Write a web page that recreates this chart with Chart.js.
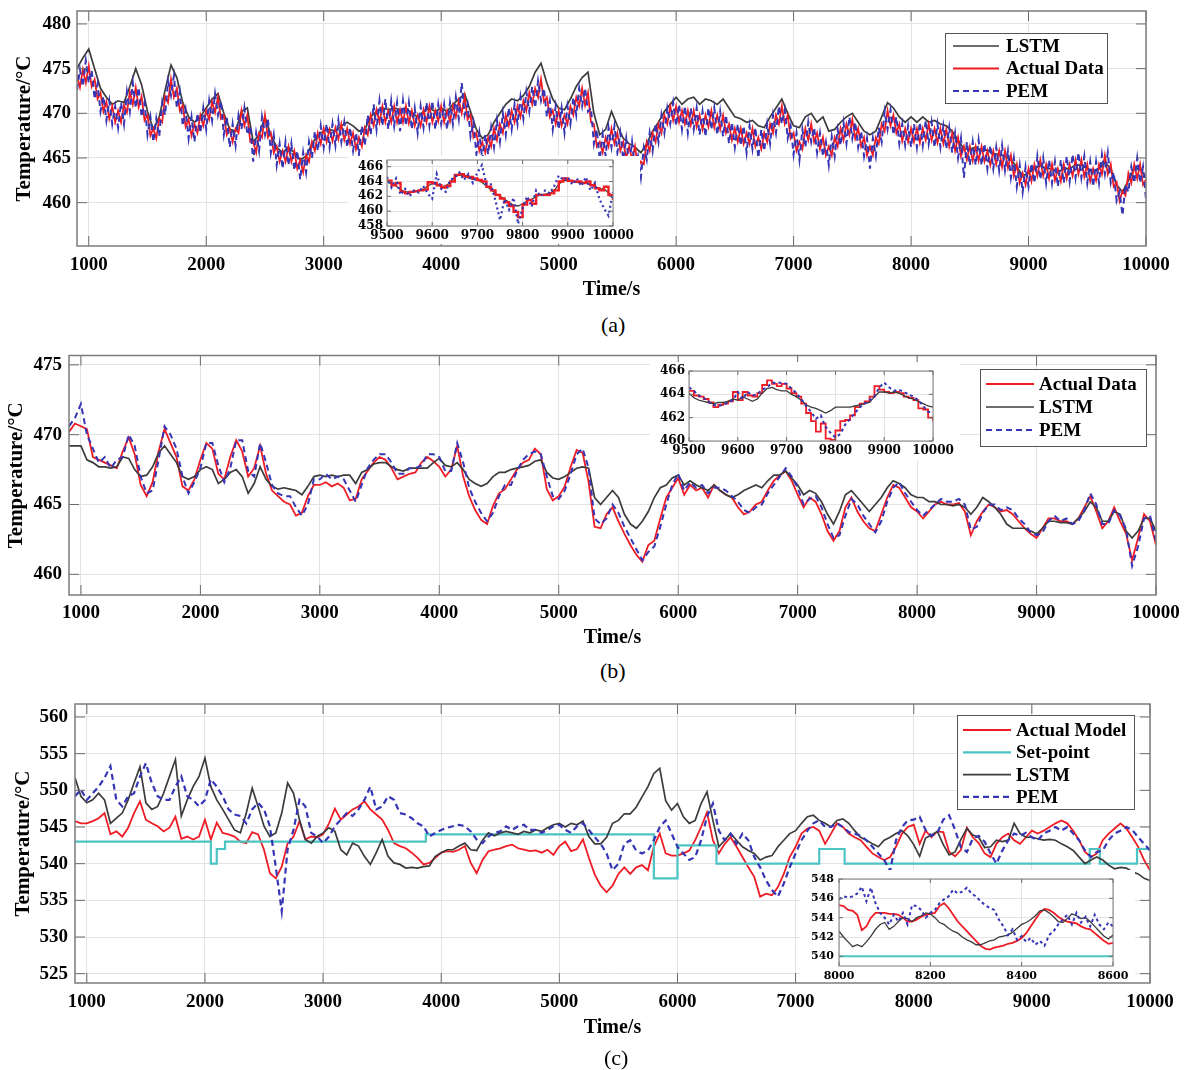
<!DOCTYPE html>
<html lang="en">
<head>
  <meta charset="UTF-8">
  <title>Temperature: Actual Data, LSTM, PEM</title>
  <script src="https://cdn.jsdelivr.net/npm/chart.js"></script>
  <style>
    body { margin: 0; background: #fff; width: 1184px; height: 1070px; position: relative; overflow: hidden; }
    canvas { position: absolute; }
    .inset { background: #fff; }
    .cap { position: absolute; font: 22px "Liberation Serif", serif; line-height: 28px; color: #000; }
  </style>
</head>
<body>
  <canvas id="chartA" width="1184" height="305" style="left:0;top:0"></canvas>
  <canvas id="chartB" width="1184" height="312" style="left:0;top:340px"></canvas>
  <canvas id="chartC" width="1184" height="345" style="left:0;top:700px"></canvas>
  <canvas id="insetA" class="inset" width="292" height="88" style="left:348px;top:156px"></canvas>
  <canvas id="insetB" class="inset" width="310" height="98" style="left:650px;top:362px"></canvas>
  <canvas id="insetC" class="inset" width="335" height="112" style="left:800px;top:870px"></canvas>
  <div class="cap" style="left:601px;top:311px">(a)</div>
  <div class="cap" style="left:600px;top:657px">(b)</div>
  <div class="cap" style="left:604px;top:1044px">(c)</div>

  <script>
    // time axis: 900 s .. 10000 s, one reading every 50 s (every 25 s for the noisy traces of panel a)
    const times = [];
    for (let t = 900; t <= 10000; t += 50) times.push(t);
    const timesFine = [];
    for (let t = 900; t <= 10000; t += 25) timesFine.push(t);

    // zoomed insets: one reading every 10 s
    const zoomAB = [];
    for (let t = 9500; t <= 10000; t += 10) zoomAB.push(t);
    const zoomC = [];
    for (let t = 8000; t <= 8600; t += 10) zoomC.push(t);

    const xTicks = [1000, 2000, 3000, 4000, 5000, 6000, 7000, 8000, 9000, 10000];
    const yTicksA = [460, 465, 470, 475, 480];
    const yTicksB = [460, 465, 470, 475];
    const yTicksC = [525, 530, 535, 540, 545, 550, 555, 560];
    const xTicksZoomAB = [9500, 9600, 9700, 9800, 9900, 10000];
    const yTicksZoomA = [458, 460, 462, 464, 466];
    const yTicksZoomB = [460, 462, 464, 466];
    const xTicksZoomC = [8000, 8200, 8400, 8600];
    const yTicksZoomC = [540, 542, 544, 546, 548];

    // ---- panel (a) ----
    const lstmA = [
      475.0, 476.2,
      477.2, 475.0, 472.8, 471.8, 471.0, 471.4, 471.2, 473.0, 475.0, 473.2, 470.2, 468.2, 469.6, 472.6, 475.4, 474.0, 471.2, 469.6, 469.0, 469.6,
      470.6, 471.6, 472.2, 470.0, 468.2, 468.0, 470.2, 470.6, 466.8, 467.6, 469.6, 467.6, 466.2, 465.6, 466.2, 465.6, 464.8, 465.2, 466.6, 467.6,
      468.0, 468.2, 468.0, 468.6, 469.0, 468.6, 468.0, 468.2, 469.6, 470.2, 470.6, 470.4, 470.6, 470.4, 470.6, 470.0, 469.6, 470.2, 470.6, 470.2,
      470.6, 470.2, 471.0, 471.6, 472.2, 470.2, 468.2, 467.2, 467.6, 469.0, 470.0, 471.0, 471.6, 471.4, 472.0, 473.0, 474.6, 475.6, 473.4, 471.6,
      470.6, 470.4, 471.6, 473.0, 474.0, 474.6, 470.0, 467.6, 468.2, 470.2, 468.6, 467.2, 466.6, 466.2, 465.6, 466.6, 468.0, 469.0, 470.2, 471.0,
      471.8, 471.0, 471.6, 471.8, 471.0, 471.6, 471.4, 471.0, 471.6, 470.6, 469.6, 469.4, 469.0, 469.2, 468.6, 468.4, 469.6, 470.6, 471.6, 470.0,
      468.6, 468.4, 469.6, 470.0, 469.0, 469.6, 468.0, 468.2, 469.0, 469.6, 470.0, 469.0, 468.0, 467.6, 468.0, 469.6, 471.2, 470.6, 469.6, 469.0,
      469.6, 469.0, 469.6, 469.0, 469.2, 468.8, 468.6, 468.0, 467.0, 466.0, 466.0, 466.2, 465.8, 465.9, 465.5, 465.4, 465.2, 464.8, 464.0, 463.0,
      463.3, 463.8, 464.2, 463.8, 463.8, 463.4, 463.8, 463.8, 464.2, 464.2, 463.8, 463.4, 463.8, 464.5, 463.8, 462.0, 461.2, 462.5, 463.8, 463.8,
      462.8
    ];
    // 25 s readings
    const actualA = [
      474.2, 472.9, 474.9, 473.4,
      475.3, 473.0, 473.8, 471.6, 472.3, 470.2, 471.3, 469.4, 470.8, 469.0, 470.3, 469.0, 470.9, 470.1, 472.4, 471.0, 472.9, 470.7, 471.9, 469.2,
      469.8, 467.5, 468.3, 467.2, 469.4, 469.0, 471.9, 471.2, 473.8, 471.8, 472.8, 470.3, 470.9, 468.5, 469.3, 467.5, 468.8, 467.8, 469.8, 468.6,
      470.3, 469.3, 471.3, 470.1, 471.8, 469.4, 469.8, 467.6, 468.3, 466.8, 468.3, 467.8, 470.3, 468.6, 469.8, 466.8, 466.8, 465.6, 467.8, 467.3,
      469.8, 467.3, 467.8, 465.6, 466.3, 464.6, 465.8, 464.6, 466.3, 464.6, 465.8, 463.8, 464.8, 463.4, 465.3, 464.6, 466.8, 465.8, 467.8, 466.6,
      468.3, 466.8, 468.2, 466.9, 468.4, 467.1, 468.8, 467.0, 468.3, 466.6, 467.8, 466.0, 467.3, 466.3, 468.4, 467.6, 469.8, 468.6, 470.4, 469.0,
      470.8, 469.0, 470.3, 469.0, 470.8, 469.0, 470.4, 469.0, 470.8, 468.9, 470.3, 468.6, 469.8, 468.6, 470.4, 469.0, 470.8, 469.0, 470.3, 469.1,
      470.8, 469.0, 470.3, 469.1, 470.9, 469.6, 471.4, 470.0, 471.9, 469.3, 469.8, 467.3, 467.8, 465.8, 466.8, 465.6, 467.3, 466.3, 468.3, 467.0,
      468.8, 467.8, 469.8, 468.6, 470.3, 469.0, 470.8, 469.6, 471.4, 470.3, 472.3, 471.0, 472.8, 471.8, 473.8, 471.3, 471.8, 469.6, 470.3, 468.8,
      470.3, 468.6, 469.8, 468.8, 470.8, 469.8, 471.8, 470.8, 472.8, 470.9, 472.3, 469.0, 468.8, 466.3, 466.8, 465.6, 467.3, 466.3, 468.3, 466.6,
      467.8, 465.8, 466.8, 465.0, 466.3, 464.8, 466.3, 463.9, 464.6, 464.3, 466.8, 465.8, 467.8, 466.8, 468.8, 467.8, 469.8, 468.8, 470.8, 469.2,
      470.8, 469.0, 470.3, 468.8, 470.3, 468.7, 470.3, 468.5, 469.8, 468.2, 469.8, 468.5, 470.3, 468.4, 469.8, 468.2, 469.8, 467.8, 468.8, 467.0,
      468.3, 466.8, 468.3, 466.6, 467.8, 466.6, 468.3, 466.3, 467.3, 466.0, 467.8, 466.8, 468.8, 467.8, 469.8, 468.8, 470.8, 468.8, 469.8, 467.2,
      467.8, 465.8, 466.8, 466.0, 468.3, 467.0, 468.8, 466.8, 467.8, 466.0, 467.3, 465.3, 466.3, 465.3, 467.3, 466.3, 468.3, 467.0, 468.8, 467.6,
      469.3, 467.2, 468.3, 466.3, 467.3, 465.3, 466.3, 465.3, 467.3, 466.6, 468.8, 468.0, 470.3, 468.6, 469.8, 467.8, 468.8, 466.9, 468.3, 466.8,
      468.3, 466.8, 468.3, 466.7, 468.3, 467.0, 468.8, 467.0, 468.3, 466.7, 468.3, 466.6, 468.2, 466.3, 467.8, 465.8, 467.3, 465.2, 466.3, 464.8,
      466.3, 464.7, 466.3, 464.7, 466.3, 464.6, 465.8, 464.2, 465.8, 464.3, 465.8, 464.0, 465.8, 463.9, 465.3, 463.0, 464.3, 462.2, 463.3, 462.0,
      463.8, 462.4, 464.3, 463.0, 464.8, 463.0, 464.3, 462.7, 464.3, 462.5, 463.8, 462.4, 464.3, 462.7, 464.3, 463.0, 464.8, 463.2, 464.8, 462.9,
      464.3, 462.4, 463.8, 462.5, 464.3, 463.2, 465.3, 463.2, 464.3, 461.8, 462.3, 460.2, 461.3, 460.8, 463.3, 462.2, 464.3, 462.7, 464.3, 462.0,
      462.6
    ];
    // 25 s readings
    const pemA = [
      472.6, 474.9, 473.0, 475.9,
      473.4, 474.8, 471.6, 473.3, 470.2, 471.9, 469.2, 471.4, 468.8, 470.8, 468.4, 471.2, 468.8, 472.4, 470.2, 473.4, 470.6, 472.9, 469.6, 471.2,
      467.6, 469.6, 466.8, 469.4, 467.4, 471.2, 469.8, 473.6, 472.0, 474.2, 470.6, 472.4, 468.6, 470.4, 467.2, 469.6, 466.8, 470.0, 467.8, 470.6,
      468.2, 471.4, 469.2, 472.2, 469.8, 471.4, 467.6, 469.6, 466.2, 468.8, 466.4, 469.8, 468.2, 470.6, 467.6, 468.6, 464.6, 467.8, 465.8, 469.6,
      467.6, 469.4, 465.6, 467.6, 464.2, 466.6, 463.8, 466.8, 464.2, 466.6, 463.6, 465.8, 462.6, 465.6, 463.4, 466.8, 465.0, 468.0, 465.8, 468.6,
      466.2, 468.8, 466.2, 468.8, 466.4, 469.2, 466.8, 469.0, 466.2, 468.4, 465.8, 467.8, 465.4, 468.6, 466.4, 469.8, 467.6, 471.0, 468.2, 471.4,
      468.6, 471.6, 468.2, 471.4, 468.6, 471.2, 468.0, 471.4, 468.6, 471.2, 468.2, 470.6, 467.8, 470.8, 468.4, 471.2, 468.6, 471.4, 468.2, 471.0,
      468.8, 471.0, 468.2, 471.2, 468.8, 471.8, 469.4, 473.4, 469.8, 471.0, 467.4, 469.0, 465.4, 467.8, 464.8, 467.6, 465.4, 468.4, 466.2, 469.2,
      466.8, 470.0, 467.6, 470.6, 468.2, 471.0, 468.8, 471.8, 469.4, 472.4, 470.2, 473.0, 470.6, 473.6, 471.4, 472.8, 469.6, 471.4, 468.2, 470.8,
      468.2, 470.6, 467.8, 470.8, 468.8, 471.8, 469.8, 472.8, 470.8, 472.8, 470.2, 470.6, 466.6, 468.2, 464.8, 467.6, 465.2, 468.4, 466.2, 468.6,
      465.6, 467.8, 464.8, 467.2, 464.2, 466.8, 463.8, 465.2, 462.8, 466.2, 464.8, 467.8, 465.8, 468.8, 466.8, 469.8, 467.8, 470.6, 468.8, 471.2,
      468.6, 471.0, 468.2, 470.8, 467.8, 470.6, 468.2, 470.6, 467.6, 470.2, 467.4, 470.6, 468.2, 470.6, 467.6, 470.2, 467.4, 469.8, 466.6, 469.0,
      466.2, 468.8, 466.4, 468.6, 465.6, 468.6, 466.0, 468.4, 465.0, 468.2, 465.8, 468.8, 466.6, 469.8, 467.8, 470.8, 468.8, 470.4, 467.2, 468.6,
      465.4, 467.8, 464.8, 468.2, 466.2, 469.0, 466.8, 468.4, 465.6, 467.8, 465.2, 466.8, 464.2, 467.4, 465.2, 468.2, 466.4, 469.0, 466.6, 469.6,
      467.2, 469.0, 466.2, 468.0, 465.2, 467.2, 463.8, 467.2, 465.2, 468.4, 466.8, 470.2, 468.2, 470.4, 467.6, 469.6, 466.6, 468.8, 466.4, 468.6,
      466.2, 468.8, 466.2, 469.0, 466.4, 469.2, 466.6, 469.0, 466.2, 468.8, 466.2, 468.6, 466.0, 468.4, 465.6, 467.8, 465.0, 467.2, 462.8, 466.8,
      464.2, 466.8, 464.2, 467.0, 464.2, 466.6, 463.8, 466.4, 463.8, 466.2, 463.6, 466.4, 463.6, 465.8, 462.8, 465.0, 461.8, 464.2, 461.2, 464.0,
      461.8, 464.4, 462.2, 465.2, 462.6, 465.0, 462.2, 464.8, 462.2, 464.6, 461.8, 464.8, 462.2, 465.2, 462.4, 465.4, 462.8, 465.6, 462.8, 465.2,
      462.2, 464.6, 461.8, 464.6, 462.2, 465.4, 463.2, 465.6, 462.2, 463.4, 460.2, 461.2, 458.6, 462.0, 461.2, 464.0, 462.2, 465.0, 462.2, 464.0,
      460.4
    ];

    // ---- panel (b) ----
    const actualB = [
      470.2, 470.8,
      470.6, 470.4, 468.4, 468.2, 468.0, 467.8, 467.6, 468.8, 469.8, 468.6, 466.4, 465.6, 466.6, 468.8, 470.4, 469.4, 468.4, 466.3, 466.0, 466.8,
      468.2, 469.4, 469.0, 467.2, 466.8, 468.4, 469.6, 468.8, 467.0, 467.6, 469.2, 467.2, 466.0, 465.6, 465.2, 465.0, 464.2, 464.4, 465.6, 466.4,
      466.4, 466.6, 466.3, 466.5, 466.2, 465.3, 465.4, 466.8, 467.4, 468.0, 468.4, 468.2, 467.6, 466.8, 467.0, 467.2, 467.3, 468.0, 468.4, 468.1,
      467.7, 467.0, 467.5, 469.2, 467.0, 465.6, 464.6, 463.9, 463.6, 464.9, 465.8, 466.1, 466.8, 467.5, 468.0, 468.2, 469.0, 468.6, 466.1, 465.3,
      465.6, 466.3, 467.7, 468.9, 468.7, 466.6, 463.4, 463.3, 464.3, 464.8, 463.8, 462.9, 462.1, 461.4, 460.9, 462.1, 462.4, 464.0, 465.5, 466.2,
      466.9, 465.7, 466.4, 466.0, 466.2, 465.5, 466.4, 466.0, 465.7, 465.5, 464.8, 464.3, 464.5, 465.0, 465.2, 466.0, 466.7, 467.1, 467.4, 466.7,
      465.7, 464.8, 465.5, 465.2, 464.3, 463.1, 462.4, 463.1, 464.8, 465.5, 464.5, 463.8, 463.3, 463.1, 464.3, 465.5, 466.4, 466.2, 465.5, 464.8,
      464.5, 464.0, 464.5, 465.0, 465.2, 465.0, 465.0, 465.1, 464.5, 462.8, 463.8, 464.5, 465.0, 464.8, 464.5, 464.6, 464.3, 463.8, 463.3, 462.9,
      462.6, 463.3, 464.0, 464.0, 463.8, 463.8, 463.6, 464.0, 464.8, 465.6, 464.5, 463.3, 463.8, 464.8, 463.8, 462.9, 461.0, 462.6, 464.3, 463.8,
      462.1
    ];
    const lstmB = [
      469.2, 469.2,
      469.2, 468.2, 468.0, 467.7, 467.7, 467.6, 467.7, 468.4, 468.3, 467.5, 467.0, 467.1, 467.7, 468.7, 469.2, 468.6, 468.0, 467.0, 466.8, 467.0,
      467.5, 467.7, 467.5, 466.5, 466.8, 467.3, 467.5, 467.0, 465.8, 466.5, 467.7, 466.8, 466.3, 466.1, 466.2, 466.1, 466.0, 465.7, 466.3, 467.0,
      467.1, 467.0, 467.1, 467.0, 467.1, 467.1, 466.5, 467.3, 467.5, 467.9, 468.0, 468.0, 467.7, 467.5, 467.4, 467.6, 467.6, 467.6, 467.6, 468.0,
      468.3, 467.8, 467.7, 468.0, 467.5, 466.8, 466.5, 466.3, 466.5, 467.0, 467.3, 467.3, 467.5, 467.6, 467.7, 467.8, 468.1, 468.2, 467.3, 466.9,
      466.8, 467.0, 467.3, 467.6, 467.7, 467.6, 465.5, 465.0, 465.5, 466.0, 465.5, 464.3, 463.6, 463.3, 463.8, 464.5, 465.5, 466.2, 466.4, 466.9,
      467.1, 466.4, 466.7, 466.4, 466.2, 466.0, 466.4, 466.0, 465.7, 465.5, 465.7, 466.0, 466.2, 466.4, 466.2, 466.7, 467.1, 467.1, 467.4, 466.9,
      466.4, 465.7, 466.0, 465.8, 465.2, 464.3, 463.6, 464.5, 465.7, 466.0, 465.5, 465.0, 464.5, 465.0, 465.5, 466.2, 466.7, 466.5, 466.2, 465.7,
      465.5, 465.5, 465.2, 465.2, 465.0, 465.0, 464.9, 465.0, 464.8, 464.3, 464.8, 465.5, 465.2, 464.8, 464.3, 463.6, 463.3, 463.3, 463.3, 463.1,
      462.9, 463.3, 463.8, 463.8, 463.7, 463.7, 463.6, 464.0, 464.5, 465.2, 464.8, 463.8, 463.8, 464.5, 464.3, 463.1, 462.6, 463.1, 464.0, 464.0,
      463.1
    ];
    const pemB = [
      470.6, 471.2,
      472.2, 470.0, 469.0, 468.0, 468.4, 467.6, 468.2, 468.4, 470.0, 469.2, 467.0, 465.8, 466.0, 468.2, 470.6, 470.0, 469.0, 467.0, 465.8, 466.6,
      467.6, 469.4, 469.4, 467.8, 466.6, 467.6, 469.6, 469.6, 467.4, 467.0, 469.4, 468.0, 466.4, 465.8, 465.6, 465.6, 464.8, 464.2, 465.0, 466.8,
      466.8, 467.2, 466.8, 467.0, 466.8, 466.0, 465.2, 466.4, 467.6, 468.2, 468.6, 468.6, 468.0, 467.2, 467.2, 467.6, 467.6, 467.8, 468.6, 468.6,
      468.4, 467.4, 467.4, 469.4, 468.0, 466.2, 465.2, 464.4, 463.8, 464.4, 465.6, 466.4, 466.4, 467.4, 468.2, 468.6, 468.8, 468.6, 467.0, 465.6,
      465.4, 466.0, 467.2, 468.6, 469.0, 467.6, 464.0, 463.6, 464.0, 465.0, 464.4, 463.4, 462.6, 461.8, 461.0, 461.6, 462.0, 463.4, 465.0, 466.4,
      467.2, 466.0, 466.6, 466.2, 466.4, 465.8, 466.2, 466.2, 466.0, 465.6, 465.2, 464.6, 464.4, 464.8, 465.0, 465.8, 466.4, 467.0, 467.6, 467.0,
      466.2, 465.0, 465.4, 465.6, 464.8, 463.6, 462.6, 462.8, 464.2, 465.4, 465.0, 464.2, 463.6, 463.0, 463.8, 465.2, 466.2, 466.6, 465.8, 465.2,
      464.6, 464.2, 464.6, 465.0, 465.4, 465.2, 465.2, 465.4, 465.0, 463.2, 463.4, 464.4, 465.0, 465.0, 464.6, 464.8, 464.6, 464.0, 463.6, 463.0,
      462.8, 463.0, 463.8, 464.2, 463.8, 464.0, 463.6, 463.8, 464.6, 465.8, 465.0, 463.6, 463.6, 464.6, 464.2, 463.2, 460.6, 462.0, 464.0, 464.2,
      462.4
    ];

    // ---- panel (c) ----
    const actualC = [
      545.8, 545.5,
      545.5, 545.8, 546.2, 546.9, 544.0, 544.4, 543.7, 544.9, 546.9, 548.5, 546.0, 545.5, 545.1, 544.4, 544.9, 546.4, 543.4, 543.7, 543.3, 543.7,
      546.0, 543.3, 545.6, 544.2, 544.0, 543.7, 543.0, 542.8, 544.3, 544.0, 541.9, 538.7, 538.0, 539.6, 542.8, 543.7, 545.8, 543.3, 543.7, 543.6,
      544.0, 545.5, 547.5, 546.0, 546.7, 547.4, 547.8, 548.5, 547.4, 546.7, 546.0, 544.6, 542.8, 542.4, 542.1, 541.5, 540.8, 539.9, 540.1, 540.8,
      541.5, 541.7, 541.6, 541.9, 542.4, 540.1, 538.7, 540.5, 541.7, 541.9, 542.1, 542.4, 542.6, 542.1, 541.9, 541.7, 541.8, 541.5, 541.9, 541.2,
      542.4, 543.0, 541.7, 542.0, 543.3, 540.8, 538.5, 537.0, 536.1, 537.0, 538.6, 539.5, 538.6, 539.5, 539.8, 539.1, 542.3, 544.1, 541.4, 541.1,
      541.1, 541.4, 541.8, 543.2, 545.0, 547.0, 543.2, 541.4, 542.7, 543.6, 542.3, 540.9, 539.5, 538.2, 535.5, 535.9, 535.7, 536.8, 538.6, 540.9,
      542.3, 544.1, 544.8, 545.0, 544.5, 542.7, 544.1, 545.5, 545.0, 544.1, 543.6, 543.2, 542.3, 541.4, 540.9, 540.5, 540.9, 542.3, 544.1, 545.0,
      545.3, 542.7, 544.5, 543.6, 544.4, 544.3, 541.6, 541.0, 541.9, 544.9, 543.6, 542.8, 541.4, 540.9, 542.7, 543.6, 544.1, 543.2, 542.7, 543.6,
      544.5, 544.1, 544.5, 545.0, 545.5, 545.9, 545.5, 544.5, 543.2, 541.6, 540.9, 541.4, 543.2, 544.1, 544.8, 545.5, 544.8, 543.6, 542.3, 540.5,
      539.1
    ];
    const lstmC = [
      551.7, 549.2,
      548.3, 548.7, 549.6, 548.7, 545.5, 546.2, 546.9, 548.7, 551.0, 553.2, 548.3, 547.4, 547.8, 549.6, 551.9, 554.2, 546.5, 548.7, 550.5, 551.9,
      554.4, 550.5, 548.7, 547.4, 546.0, 544.6, 544.2, 546.9, 550.3, 547.8, 545.1, 543.7, 544.2, 546.9, 551.0, 549.6, 546.0, 543.3, 542.8, 543.7,
      544.2, 544.9, 544.4, 541.9, 541.2, 542.8, 542.4, 541.0, 539.9, 541.5, 543.3, 541.0, 540.1, 539.9, 539.4, 539.5, 539.4, 539.6, 539.7, 541.0,
      541.5, 541.9, 541.9, 542.4, 542.8, 541.9, 541.8, 543.2, 544.2, 543.8, 544.2, 544.4, 544.2, 544.0, 544.4, 544.2, 544.6, 544.4, 544.9, 545.3,
      545.5, 545.0, 545.5, 545.3, 545.8, 543.7, 542.7, 542.7, 543.6, 545.5, 545.9, 546.8, 546.8, 547.7, 549.1, 550.5, 552.3, 553.0, 548.6, 547.3,
      548.2, 546.4, 545.5, 545.9, 548.2, 549.8, 545.9, 542.3, 543.2, 544.1, 543.2, 542.3, 541.8, 541.4, 540.5, 540.9, 541.1, 542.3, 543.2, 544.1,
      544.5, 545.5, 546.4, 546.6, 545.9, 545.5, 545.0, 545.9, 546.1, 545.5, 544.5, 543.6, 543.2, 542.7, 542.3, 543.2, 543.6, 544.1, 544.5, 543.8,
      542.6, 541.0, 543.5, 543.9, 544.4, 542.6, 541.2, 541.6, 543.3, 544.8, 543.9, 543.6, 542.2, 542.3, 543.2, 543.0, 543.2, 545.5, 544.1, 543.6,
      543.6, 543.4, 543.2, 543.3, 543.2, 542.7, 542.3, 541.8, 540.9, 540.0, 540.5, 540.9, 540.5, 539.8, 539.3, 539.5, 539.4, 538.9, 538.6, 538.0,
      537.7
    ];
    const pemC = [
      549.2, 550.1,
      548.7, 549.6, 550.5, 551.7, 553.3, 548.7, 547.8, 549.2, 549.6, 551.9, 553.7, 551.0, 549.2, 548.7, 548.7, 550.5, 551.9, 549.2, 548.7, 547.8,
      548.7, 551.5, 550.5, 549.2, 547.4, 546.7, 546.5, 545.5, 547.4, 548.3, 547.4, 545.1, 539.5, 533.5, 542.0, 544.6, 548.7, 547.8, 544.2, 543.7,
      542.8, 543.7, 545.1, 546.0, 546.9, 546.5, 547.4, 548.7, 550.5, 547.4, 547.8, 549.2, 548.7, 546.9, 546.7, 546.2, 545.5, 545.1, 543.7, 544.2,
      544.6, 544.9, 545.1, 545.3, 545.1, 544.4, 543.3, 542.8, 543.7, 544.2, 544.4, 545.1, 544.6, 545.1, 545.3, 544.6, 544.6, 544.2, 544.6, 545.1,
      545.3, 544.6, 544.2, 545.1, 545.5, 544.6, 543.6, 542.7, 541.4, 539.1, 540.0, 542.7, 543.2, 541.8, 541.4, 541.8, 543.2, 545.0, 545.9, 544.1,
      542.3, 541.4, 540.5, 540.9, 543.2, 546.4, 548.2, 544.5, 543.2, 544.1, 542.7, 544.1, 543.2, 540.9, 539.5, 537.7, 536.4, 535.5, 537.3, 539.5,
      541.4, 543.2, 544.5, 545.5, 545.9, 545.0, 545.0, 545.5, 545.0, 544.3, 544.1, 543.8, 543.2, 542.3, 541.4, 540.5, 539.0, 543.2, 545.0, 545.9,
      546.0, 546.4, 544.6, 543.8, 544.2, 546.0, 546.6, 544.6, 542.2, 541.6, 543.4, 543.8, 543.0, 541.4, 540.0, 541.8, 543.2, 544.1, 543.8, 544.2,
      543.6, 543.2, 544.1, 544.5, 545.0, 544.5, 545.0, 544.1, 543.2, 541.8, 540.9, 541.6, 541.8, 543.2, 544.1, 544.5, 545.0, 544.6, 543.6, 542.7,
      541.8
    ];
    // set-point changes (time, new value)
    const setX = [900, 2050, 2100, 2170, 3870, 5800, 6000, 6330, 7200, 7415, 9490, 9575, 9890, 10000];
    const setY = [543, 540, 542, 543, 544, 538, 542.5, 540, 542, 540, 542, 540, 542, 542];

    // ---- insets ----
    const actualZoomA = [
      464.1, 463.5, 463.8, 462.6, 462.4, 462.6, 462.7, 462.8, 462.9, 463.9,
      463.8, 463.5, 463.2, 463.4, 464.0, 464.9, 465.0, 464.7, 464.6, 464.4,
      464.2, 464.0, 463.3, 462.8, 462.2, 461.7, 461.2, 460.7, 459.9, 459.2,
      460.9, 461.5, 461.0, 462.2, 462.2, 462.2, 462.4, 462.8, 464.0, 464.4,
      464.1, 464.0, 464.0, 463.8, 464.0, 463.5, 463.1, 462.8, 463.3, 462.2,
      461.5
    ];
    const lstmZoomA = [
      464.0, 463.7, 463.4, 462.9, 462.6, 462.6, 462.7, 462.8, 462.9, 463.4,
      463.7, 463.6, 463.3, 463.4, 463.9, 464.6, 464.9, 464.7, 464.5, 464.3,
      464.2, 463.9, 463.4, 462.9, 462.4, 462.0, 461.6, 461.2, 460.8, 460.7,
      461.0, 461.4, 461.6, 462.0, 462.2, 462.3, 462.4, 462.8, 463.6, 464.2,
      464.1, 464.0, 463.9, 463.8, 463.9, 463.6, 463.3, 463.0, 463.0, 462.5,
      462.0
    ];
    const pemZoomA = [
      464.6, 463.2, 464.4, 462.2, 463.0, 462.0, 462.8, 462.5, 463.4, 462.4,
      461.7, 465.0, 463.0, 462.6, 464.2, 464.6, 465.2, 464.2, 465.0, 463.8,
      465.2, 466.2, 463.6, 463.6, 461.4, 458.8, 461.6, 460.2, 461.8, 458.3,
      460.4, 462.0, 460.6, 462.8, 462.0, 462.8, 462.4, 463.4, 464.8, 464.2,
      464.6, 463.6, 464.4, 463.4, 464.6, 462.8, 463.8, 461.6, 460.4, 459.4,
      462.6
    ];
    const actualZoomB = [
      464.3, 463.9, 463.8, 463.6, 463.3, 462.9, 463.1, 463.2, 463.4, 464.2,
      463.5, 464.2, 463.9, 463.8, 464.1, 464.8, 465.2, 464.9, 464.7, 464.9,
      464.5, 464.1, 463.8, 463.2, 462.4, 461.7, 460.8, 461.5, 460.2, 460.1,
      460.9, 461.7, 461.8, 462.2, 462.9, 463.2, 463.4, 463.8, 464.7, 464.4,
      464.2, 464.1, 464.2, 464.1, 463.8, 463.7, 463.5, 462.8, 462.7, 462.0,
      461.7
    ];
    const lstmZoomB = [
      464.1, 463.7, 463.5, 463.4, 463.3, 463.2, 463.3, 463.3, 463.4, 463.6,
      463.5, 463.8, 463.6, 463.4, 463.6, 464.1, 464.5, 464.6, 464.4, 464.3,
      464.3, 464.0, 463.8, 463.5, 463.1, 462.9, 462.8, 462.6, 462.4, 462.6,
      462.9, 462.9, 462.9, 462.9, 463.0, 463.1, 463.2, 463.3, 463.8, 464.2,
      464.2, 464.1, 464.2, 464.1, 463.9, 463.7, 463.6, 463.4, 463.2, 463.0,
      462.9
    ];
    const pemZoomB = [
      464.6, 464.3, 463.9, 463.7, 463.4, 463.1, 463.0, 463.1, 463.3, 463.5,
      464.2, 463.6, 464.2, 463.9, 464.0, 464.4, 464.6, 465.0, 465.0, 465.0,
      464.9, 464.5, 464.1, 463.6, 463.0, 462.5, 461.9, 462.2, 461.2, 460.7,
      460.3, 460.6, 461.4, 461.9, 462.4, 462.9, 463.2, 463.5, 463.8, 464.6,
      465.0, 464.6, 464.3, 464.4, 464.2, 464.0, 463.8, 463.5, 463.0, 462.5,
      462.4
    ];
    const actualZoomC = [
      545.3, 545.2, 544.8, 544.7, 544.3, 542.7, 543.1, 544.0, 544.5, 544.5,
      544.5, 544.4, 544.4, 544.3, 544.0, 543.6, 543.6, 543.8, 544.1, 544.3,
      544.4, 544.5, 545.2, 545.5, 545.0, 544.3, 543.6, 543.1, 542.6, 542.1,
      541.6, 541.1, 540.8, 540.7, 540.9, 541.0, 541.1, 541.3, 541.4, 541.6,
      541.9, 542.4, 543.1, 543.8, 544.5, 544.9, 544.8, 544.5, 544.1, 543.8,
      543.6, 543.5, 543.4, 543.1, 542.9, 542.8, 542.4, 542.0, 541.6, 541.3,
      541.4
    ];
    const lstmZoomC = [
      542.6, 542.0, 541.5, 541.0, 541.2, 541.0, 541.5, 542.1, 542.8, 543.3,
      543.5, 542.8, 543.1, 543.6, 544.0, 543.9, 543.6, 544.0, 544.2, 544.5,
      544.4, 544.0, 543.5, 543.3, 542.9, 542.6, 542.4, 542.0, 541.7, 541.5,
      541.2, 541.2, 541.4, 541.6, 541.7, 542.0, 542.1, 542.2, 542.5, 542.9,
      543.3, 543.5, 543.8, 544.2, 544.7, 544.8, 544.5, 544.1, 543.6, 543.5,
      543.9, 544.4, 544.2, 543.9, 544.0, 543.6, 543.1, 542.6, 542.1, 541.8,
      542.2
    ];
    const pemZoomC = [
      545.9, 546.2, 546.1, 546.2, 546.5, 547.2, 545.7, 547.1, 545.5, 544.5,
      544.0, 543.3, 544.3, 543.6, 544.5, 543.3, 545.3, 545.2, 544.8, 544.0,
      544.5, 544.8, 545.5, 545.9, 546.2, 546.9, 546.5, 546.7, 547.1, 546.5,
      546.2, 545.7, 545.3, 545.0, 544.8, 543.8, 543.1, 542.2, 542.8, 541.7,
      542.1, 541.5, 541.9, 541.2, 541.6, 541.1, 542.2, 542.6, 543.3, 543.8,
      544.3, 543.3, 544.5, 543.5, 544.1, 543.1, 544.3, 543.3, 542.8, 543.5,
      543.1
    ];
    const setZoomX = [8000, 8600];
    const setZoomY = [540, 540];

    // ---- styling ----
    const SERIF = '"Liberation Serif", "Times New Roman", serif';
    const INSET_FONT = '"DejaVu Serif", serif';
    const RED = '#ee1c25', DARK = '#3c3c3c', BLUE = '#3535b5', TEAL = '#4cc4c4';

    function series(label, xs, ys, color, width, dash, order, extra) {
      return Object.assign({
        label: label,
        data: xs.map((x, i) => ({ x: x, y: ys[i] })),
        borderColor: color,
        backgroundColor: color,
        borderWidth: width,
        borderDash: dash,
        order: order,
        fill: false
      }, extra || {});
    }

    // box round the plot area plus MATLAB-like inward tick marks
    const framePlugin = {
      id: 'frame',
      afterDraw(chart, args, o) {
        const { ctx, chartArea: a } = chart;
        const x = chart.scales.x, y = chart.scales.y;
        ctx.save();
        ctx.strokeStyle = '#6a6a6a';
        ctx.lineWidth = 1;
        ctx.beginPath();
        x.ticks.forEach(t => {
          const px = x.getPixelForValue(t.value);
          ctx.moveTo(px, a.bottom); ctx.lineTo(px, a.bottom - o.len);
          ctx.moveTo(px, a.top); ctx.lineTo(px, a.top + o.len);
        });
        y.ticks.forEach(t => {
          const py = y.getPixelForValue(t.value);
          ctx.moveTo(a.left, py); ctx.lineTo(a.left + o.len, py);
          ctx.moveTo(a.right, py); ctx.lineTo(a.right - o.len, py);
        });
        ctx.stroke();
        ctx.strokeStyle = '#7c7c7c';
        ctx.lineWidth = o.width;
        ctx.strokeRect(a.left, a.top, a.right - a.left, a.bottom - a.top);
        ctx.restore();
      }
    };

    // legend drawn as a boxed list inside the plot
    const legendPlugin = {
      id: 'boxLegend',
      afterDraw(chart, args, o) {
        if (!o.show) return;
        const ctx = chart.ctx;
        ctx.save();
        ctx.fillStyle = '#fff';
        ctx.fillRect(o.x, o.y, o.w, o.h);
        ctx.strokeStyle = '#555';
        ctx.lineWidth = 1;
        ctx.strokeRect(o.x + 0.5, o.y + 0.5, o.w, o.h);
        ctx.font = 'bold 19px ' + SERIF;
        ctx.textBaseline = 'middle';
        chart.data.datasets.forEach((ds, i) => {
          const cy = o.y + o.first + i * o.row;
          ctx.strokeStyle = ds.borderColor;
          ctx.lineWidth = ds.borderWidth;
          ctx.setLineDash(ds.borderDash || []);
          ctx.beginPath();
          ctx.moveTo(o.x + o.l0, cy);
          ctx.lineTo(o.x + o.l1, cy);
          ctx.stroke();
          ctx.setLineDash([]);
          ctx.fillStyle = '#000';
          ctx.fillText(ds.label, o.x + o.tx, cy + 1);
        });
        ctx.restore();
      }
    };

    function makeChart(id, c) {
      const cv = document.getElementById(id);
      const W = cv.width, H = cv.height, a = c.area;
      const tickFont = { family: c.font, size: c.tickSize, weight: 'bold' };
      return new Chart(cv, {
        type: 'line',
        data: { datasets: c.datasets },
        plugins: [framePlugin, legendPlugin],
        options: {
          responsive: false,
          animation: false,
          events: [],
          layout: { padding: { left: 0, top: a.top, right: W - a.right, bottom: 0 } },
          elements: { point: { radius: 0 }, line: { tension: 0 } },
          plugins: {
            legend: { display: false },
            tooltip: { enabled: false },
            frame: { len: c.tickLen, width: c.frameWidth },
            boxLegend: c.legend || { show: false }
          },
          scales: {
            x: {
              type: 'linear', min: c.xMin, max: c.xMax,
              afterBuildTicks: s => { s.ticks = c.xTicks.map(v => ({ value: v })); },
              afterFit: s => { s.height = H - a.bottom; s.paddingLeft = 0; s.paddingRight = 0; },
              grid: { color: '#e3e3e3', drawTicks: false },
              border: { display: false },
              ticks: { font: tickFont, color: '#000', padding: c.xPad, maxRotation: 0, autoSkip: false, callback: v => v },
              title: { display: !!c.xTitle, text: c.xTitle, color: '#000', font: { family: SERIF, size: 20, weight: 'bold' }, padding: { top: 0, bottom: c.xTitlePad || 0 } }
            },
            y: {
              min: c.yMin, max: c.yMax,
              afterBuildTicks: s => { s.ticks = c.yTicks.map(v => ({ value: v })); },
              afterFit: s => { s.width = a.left; s.paddingTop = 0; s.paddingBottom = 0; },
              grid: { color: '#e3e3e3', drawTicks: false },
              border: { display: false },
              ticks: { font: tickFont, color: '#000', padding: c.yPad, autoSkip: false, callback: v => v },
              title: { display: !!c.yTitle, text: c.yTitle, color: '#000', font: { family: SERIF, size: 21, weight: 'bold' }, padding: { top: c.yTitlePad || 0, bottom: 0 } }
            }
          }
        }
      });
    }

    const mainStyle = { font: SERIF, tickSize: 19, tickLen: 10, frameWidth: 1.5, xMin: 900, xMax: 10000, xTicks: xTicks, xTitle: 'Time/s', yTitle: 'Temperature/°C' };
    const zoomStyle = { font: INSET_FONT, tickLen: 4, frameWidth: 1 };

    makeChart('chartA', Object.assign({}, mainStyle, {
      area: { left: 77, right: 1146, top: 11, bottom: 246 },
      yMin: 455.15, yMax: 481.45, yTicks: yTicksA,
      xPad: 8, xTitlePad: 3, yPad: 6, yTitlePad: 12,
      legend: { show: true, x: 945, y: 33, w: 162, h: 70, first: 13, row: 22.5, l0: 8, l1: 54, tx: 61 },
      datasets: [
        series('LSTM', times, lstmA, DARK, 1.7, [], 3),
        series('Actual Data', timesFine, actualA, RED, 1.8, [], 2),
        series('PEM', timesFine, pemA, BLUE, 2, [6, 4], 1)
      ]
    }));

    makeChart('chartB', Object.assign({}, mainStyle, {
      area: { left: 69, right: 1156, top: 15.5, bottom: 255 },
      yMin: 458.52, yMax: 475.67, yTicks: yTicksB,
      xPad: 7, xTitlePad: 2, yPad: 7, yTitlePad: 4,
      legend: { show: true, x: 980, y: 29, w: 166, h: 77, first: 15, row: 23, l0: 6, l1: 54, tx: 59 },
      datasets: [
        series('Actual Data', times, actualB, RED, 1.8, [], 3),
        series('LSTM', times, lstmB, DARK, 1.7, [], 2),
        series('PEM', times, pemB, BLUE, 2, [6, 4], 1)
      ]
    }));

    makeChart('chartC', Object.assign({}, mainStyle, {
      area: { left: 75, right: 1150, top: 4, bottom: 283 },
      yMin: 523.73, yMax: 561.77, yTicks: yTicksC,
      xPad: 8, xTitlePad: 5, yPad: 7, yTitlePad: 11,
      legend: { show: true, x: 957, y: 15, w: 177, h: 94, first: 15, row: 22.3, l0: 6, l1: 54, tx: 59 },
      datasets: [
        series('Actual Model', times, actualC, RED, 1.8, [], 4),
        series('Set-point', setX, setY, TEAL, 2.2, [], 3, { stepped: 'before' }),
        series('LSTM', times, lstmC, DARK, 1.7, [], 2),
        series('PEM', times, pemC, BLUE, 2.2, [6, 4], 1)
      ]
    }));

    makeChart('insetA', Object.assign({}, zoomStyle, {
      tickSize: 12,
      area: { left: 39, right: 265, top: 4, bottom: 70 },
      xMin: 9500, xMax: 10000, xTicks: xTicksZoomAB,
      yMin: 458, yMax: 466.9, yTicks: yTicksZoomA,
      xPad: 3, yPad: 4,
      datasets: [
        series('LSTM', zoomAB, lstmZoomA, DARK, 1.3, [], 3),
        series('Actual Data', zoomAB, actualZoomA, RED, 2.4, [], 2, { stepped: 'before' }),
        series('PEM', zoomAB, pemZoomA, BLUE, 2.2, [2, 3], 1)
      ]
    }));

    makeChart('insetB', Object.assign({}, zoomStyle, {
      tickSize: 12,
      area: { left: 39, right: 283, top: 9, bottom: 79 },
      xMin: 9500, xMax: 10000, xTicks: xTicksZoomAB,
      yMin: 460, yMax: 466, yTicks: yTicksZoomB,
      xPad: 3, yPad: 4,
      datasets: [
        series('Actual Data', zoomAB, actualZoomB, RED, 1.8, [], 3, { stepped: 'before' }),
        series('LSTM', zoomAB, lstmZoomB, DARK, 1.3, [], 2),
        series('PEM', zoomAB, pemZoomB, BLUE, 2, [3, 3], 1)
      ]
    }));

    makeChart('insetC', Object.assign({}, zoomStyle, {
      tickSize: 11,
      area: { left: 39, right: 313, top: 9, bottom: 96 },
      xMin: 8000, xMax: 8600, xTicks: xTicksZoomC,
      yMin: 539, yMax: 548, yTicks: yTicksZoomC,
      xPad: 4, yPad: 5,
      datasets: [
        series('Actual Model', zoomC, actualZoomC, RED, 1.8, [], 4),
        series('Set-point', setZoomX, setZoomY, TEAL, 2, [], 3),
        series('LSTM', zoomC, lstmZoomC, DARK, 1.3, [], 2),
        series('PEM', zoomC, pemZoomC, BLUE, 2, [3, 3], 1)
      ]
    }));
  </script>
</body>
</html>
